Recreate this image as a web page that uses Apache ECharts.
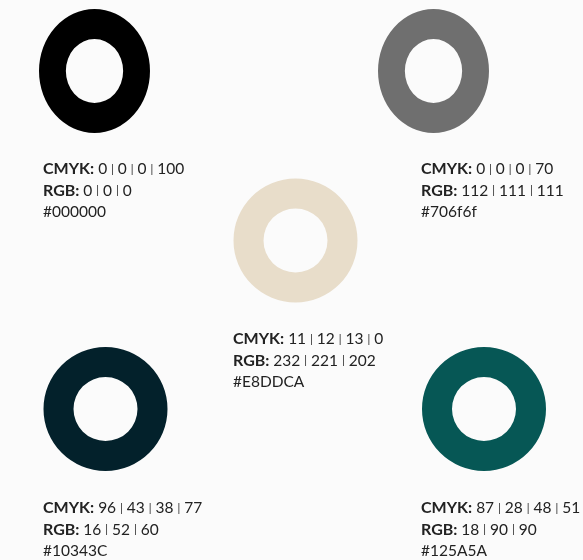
<!DOCTYPE html>
<html><head><meta charset="utf-8">
<script src="https://cdn.jsdelivr.net/npm/echarts@6/dist/echarts.min.js"></script>
<style>html,body{margin:0;padding:0;background:#fbfbfb}#c{width:583px;height:560px}</style>
</head><body><div id="c"></div>
<script>
// Swatch data
const hexCodes = ['#000000', '#706f6f', '#E8DDCA', '#10343C', '#125A5A'];
const cmykValues = [[0,0,0,100],[0,0,0,70],[11,12,13,0],[96,43,38,77],[87,28,48,51]];
const rgbValues = [[0,0,0],[112,111,111],[232,221,202],[16,52,60],[18,90,90]];
// Colours as they appear in the rendered swatches
const ringColors = ['#000000', '#6f6f6f', '#e8ddca', '#03212b', '#065755'];

// Layout (positions only)
const ringCenters = [[94.5,71],[433.5,71],[295.5,240.5],[105.5,409],[484,409]];
const ringScaleX = [0.895,0.895,1,1,1];
const labelPos = [[43,169],[421,169],[233,339],[43,508],[421,508]];

const FONT = 'Lato, "Noto Sans", sans-serif';
function joinVals(arr){
  return arr.map(v => '{n|' + v + '}').join('{s||}');
}
const chart = echarts.init(document.getElementById('c'), null, {renderer:'canvas'});
chart.setOption({
  backgroundColor: '#fbfbfb',
  animation: false,
  series: [{
    type: 'custom',
    coordinateSystem: 'none',
    data: hexCodes.map((h,i)=>[i]),
    renderItem: function(params, api){
      const i = api.value(0);
      const c = ringCenters[i], lp = labelPos[i];
      const rich = {
        b:{fontFamily:FONT,fontWeight:'bold',fontSize:16,color:'#111'},
        n:{fontFamily:FONT,fontSize:15.5,color:'#222'},
        s:{fontFamily:FONT,fontSize:11,color:'#b5b5b5',padding:[0,4,0,4]}
      };
      const mk = (txt, y) => ({
        type:'text', x: lp[0], y: y,
        style:{text:txt, rich:rich, align:'left', verticalAlign:'middle', fontFamily:FONT, fontSize:15.5, fill:'#222'}
      });
      return {
        type:'group',
        children:[
          {type:'ring', x:c[0], y:c[1], scaleX: ringScaleX[i], scaleY:1,
           shape:{cx:0, cy:0, r:62, r0:32}, style:{fill: ringColors[i]}},
          mk('{b|CMYK:} ' + joinVals(cmykValues[i]), lp[1]),
          mk('{b|RGB:} ' + joinVals(rgbValues[i]), lp[1] + 21.5),
          mk('{n|' + hexCodes[i] + '}', lp[1] + 43)
        ]
      };
    }
  }]
});
</script></body></html>
